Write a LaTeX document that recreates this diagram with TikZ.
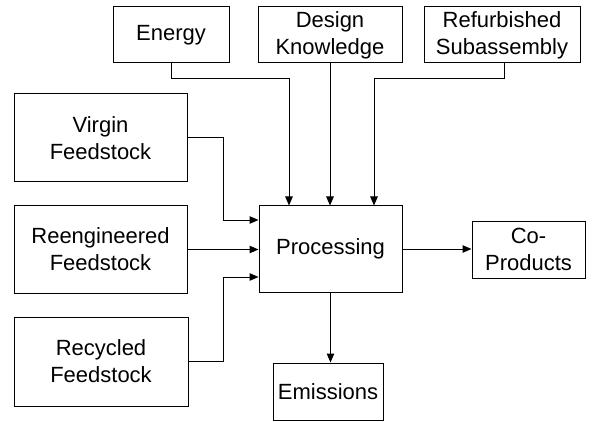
\documentclass[tikz,border=0pt]{standalone}
\usepackage{fontspec}
\setmainfont{Liberation Sans}
\usetikzlibrary{arrows.meta}
\begin{document}
\begin{tikzpicture}[x=1pt,y=-1pt,
  box/.style={draw, line width=1pt, align=center, inner sep=0pt,
    font=\fontsize{22}{27}\selectfont},
  flow/.style={line width=1pt, -{Triangle[length=9pt,width=7.5pt]}}]
  \useasboundingbox (0,0) rectangle (594,422);

  % input boxes along the top
  \node[box, minimum width=116pt, minimum height=56pt] (energy) at (171,35) {Energy};
  \node[box, minimum width=144pt, minimum height=56pt] (design) at (330,35) {Design\\Knowledge};
  \node[box, minimum width=156pt, minimum height=56pt] (refurb) at (502,35) {Refurbished\\Subassembly};

  % feedstock boxes on the left
  \node[box, minimum width=173pt, minimum height=88pt] (virgin) at (100.5,138) {Virgin\\Feedstock};
  \node[box, minimum width=173pt, minimum height=87pt] (reeng) at (100.5,249.5) {Reengineered\\Feedstock};
  \node[box, minimum width=174pt, minimum height=89pt] (recyc) at (101,361.5) {Recycled\\Feedstock};

  % central process and outputs
  \node[box, minimum width=143pt, minimum height=86pt] (proc) at (330.5,249) {Processing};
  \node[box, minimum width=113pt, minimum height=57pt] (coprod) at (528.5,249.5) {Co-\\Products};
  \node[box, minimum width=110pt, minimum height=57pt] (emis) at (328,391.5) {Emissions};

  % bend points
  \coordinate (eA) at (171,79);
  \coordinate (eB) at (289,79);
  \coordinate (rA) at (504,79);
  \coordinate (rB) at (374,79);
  \coordinate (vA) at (223,138);
  \coordinate (vB) at (223,220);
  \coordinate (cA) at (223,361.5);
  \coordinate (cB) at (223,277);

  % top inputs
  \draw[flow] (energy.south) -- (eA) -- (eB) -- (eB |- proc.north);
  \draw[flow] (design.south) -- (design.south |- proc.north);
  \draw[flow] (refurb.south -| rA) -- (rA) -- (rB) -- (rB |- proc.north);

  % feedstock inputs
  \draw[flow] (virgin.east) -- (vA) -- (vB) -- (vB -| proc.west);
  \draw[flow] (reeng.east) -- (reeng.east -| proc.west);
  \draw[flow] (recyc.east) -- (cA) -- (cB) -- (cB -| proc.west);

  % outputs
  \draw[flow] (proc.east) -- (proc.east -| coprod.west);
  \draw[flow] (proc.south) -- (proc.south |- emis.north);
\end{tikzpicture}
\end{document}
